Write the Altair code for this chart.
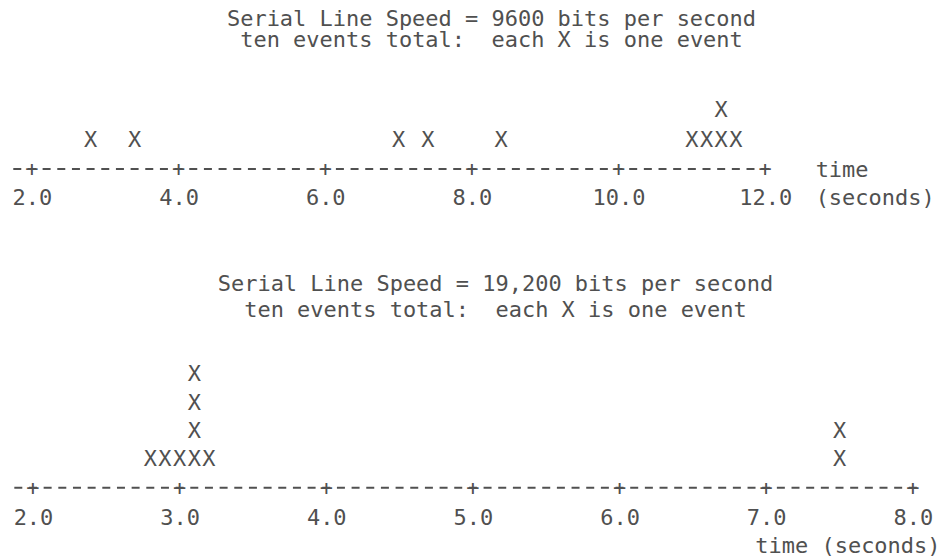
import altair as alt
import pandas as pd

FONT = "DejaVu Sans Mono"
INK = "#505050"
FS = 22

# ---- top panel: 9600 bits per second ----
top_title = ["Serial Line Speed = 9600 bits per second",
             "ten events total:\u00a0 each X is one event"]
top_events = [2.8, 3.4, 7.0, 7.4, 8.4, 11.0, 11.2, 11.4, 11.4, 11.6]
top_ticks = [2.0, 4.0, 6.0, 8.0, 10.0, 12.0]
top_axis_span = [1.7, 12.1]
top_axis_title = ["time", "(seconds)"]

# ---- bottom panel: 19,200 bits per second ----
bot_title = ["Serial Line Speed = 19,200 bits per second",
             "ten events total:\u00a0 each X is one event"]
bot_events = [2.8, 2.9, 3.0, 3.1, 3.1, 3.1, 3.1, 3.2, 7.5, 7.5]
bot_ticks = [2.0, 3.0, 4.0, 5.0, 6.0, 7.0, 8.0]
bot_axis_span = [1.85, 8.05]
bot_axis_title = "time (seconds)"


def panel(title, events, ticks, span, axis_title, xdomain, ydomain, height,
          title_dx, title_lh, title_offset, ax_title_x, ax_title_y,
          ax_title_align, label_pad):
    ev = pd.DataFrame({"t": events})
    ev["level"] = ev.groupby("t").cumcount() + 1
    tk = pd.DataFrame({"t": ticks, "level": [0] * len(ticks)})
    ln = pd.DataFrame({"t": [span[0]], "t2": [span[1]], "level": [0]})

    x = alt.X(
        "t:Q",
        scale=alt.Scale(domain=xdomain, nice=False, zero=False),
        axis=alt.Axis(
            values=ticks, format=".1f", domain=False, ticks=False, tickSize=0,
            grid=False, labelFont=FONT, labelFontSize=FS, labelColor=INK,
            labelPadding=label_pad, labelBaseline="middle", labelFlush=False,
            labelOverlap=False, title=axis_title, titleFont=FONT,
            titleFontSize=FS, titleFontWeight="normal", titleColor=INK,
            titleX=ax_title_x, titleY=ax_title_y, titleAlign=ax_title_align,
            titleBaseline="middle", titleLineHeight=28,
        ),
    )
    y = alt.Y("level:Q", scale=alt.Scale(domain=ydomain, nice=False, zero=False),
              axis=None)

    rule = alt.Chart(ln).mark_rule(
        color=INK, strokeWidth=2, strokeDash=[8, 6.68], strokeDashOffset=11.34
    ).encode(x=x, x2="t2:Q", y=y)
    plus = alt.Chart(tk).mark_text(
        text="+", font=FONT, fontSize=FS, color=INK, baseline="middle"
    ).encode(x=x, y=y)
    xs = alt.Chart(ev).mark_text(
        text="X", font=FONT, fontSize=FS, color=INK, baseline="middle"
    ).encode(x=x, y=y)

    return alt.layer(rule, plus, xs).properties(
        width=932, height=height,
        title=alt.TitleParams(
            text=title, font=FONT, fontSize=FS, fontWeight="normal", color=INK,
            anchor="middle", dx=title_dx, lineHeight=title_lh,
            offset=title_offset,
        ),
    )


p1 = panel(top_title, top_events, top_ticks, top_axis_span, top_axis_title,
           xdomain=[1.687, 14.384], ydomain=[0, 4], height=118,
           title_dx=17, title_lh=21, title_offset=-1,
           ax_title_x=807, ax_title_y=0, ax_title_align="left", label_pad=28)
p2 = panel(bot_title, bot_events, bot_ticks, bot_axis_span, bot_axis_title,
           xdomain=[1.8365, 8.1853], ydomain=[0, 5.5], height=156,
           title_dx=21, title_lh=26, title_offset=10,
           ax_title_x=932, ax_title_y=58, ax_title_align="right", label_pad=30)

chart = (
    alt.vconcat(p1, p2, spacing=65)
    .resolve_scale(x="independent", y="independent")
    .properties(padding=0, background="white")
    .configure_view(strokeWidth=0)
)

chart.save("out.html", embed_options={"renderer": "svg", "actions": False})
